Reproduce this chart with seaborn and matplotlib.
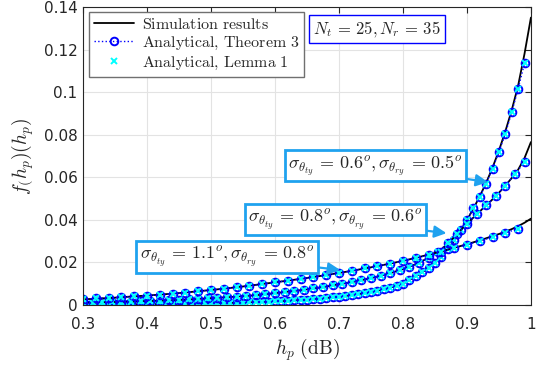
import numpy as np
import matplotlib
matplotlib.use("Agg")
import matplotlib.pyplot as plt
import seaborn as sns

# sampling grids
x_a = np.round(np.arange(0.30, 0.995, 0.01), 3)      # Theorem 3 / Lemma 1, sigma 0.6/0.5
x_b = np.round(np.arange(0.30, 0.995, 0.015), 3)     # sigma 0.8/0.6
x_c = np.round(np.arange(0.30, 0.985, 0.02), 3)      # sigma 1.1/0.8
x_sim = np.round(np.r_[np.arange(0.30, 0.89, 0.02), np.arange(0.90, 1.005, 0.01)], 3)

# analytical values
pdf_a = [0.0001, 0.0001, 0.0001, 0.0001, 0.0002, 0.0002, 0.0002, 0.0002, 0.0003, 0.0003,
         0.0003, 0.0003, 0.0004, 0.0004, 0.0004, 0.0005, 0.0005, 0.0006, 0.0006, 0.0007,
         0.0007, 0.0008, 0.0008, 0.0009, 0.0010, 0.0011, 0.0012, 0.0013, 0.0014, 0.0015,
         0.0016, 0.0018, 0.0019, 0.0021, 0.0023, 0.0025, 0.0027, 0.0029, 0.0032, 0.0035,
         0.0038, 0.0042, 0.0046, 0.0050, 0.0055, 0.0060, 0.0066, 0.0073, 0.0081, 0.0090,
         0.0100, 0.0116, 0.0135, 0.0153, 0.0174, 0.0198, 0.0226, 0.0262, 0.0305, 0.0350,
         0.0400, 0.0453, 0.0508, 0.0570, 0.0640, 0.0718, 0.0805, 0.0905, 0.1015, 0.1135]
pdf_b = [0.0010, 0.0011, 0.0012, 0.0013, 0.0014, 0.0015, 0.0017, 0.0018, 0.0020, 0.0022,
         0.0024, 0.0026, 0.0028, 0.0031, 0.0033, 0.0036, 0.0039, 0.0042, 0.0046, 0.0050,
         0.0056, 0.0061, 0.0066, 0.0071, 0.0077, 0.0084, 0.0092, 0.0099, 0.0107, 0.0116,
         0.0126, 0.0137, 0.0149, 0.0163, 0.0179, 0.0198, 0.0221, 0.0250, 0.0290, 0.0335,
         0.0382, 0.0425, 0.0467, 0.0510, 0.0560, 0.0615, 0.0670]
pdf_c = [0.0027, 0.0030, 0.0033, 0.0036, 0.0040, 0.0044, 0.0048, 0.0053, 0.0058, 0.0064,
         0.0070, 0.0076, 0.0083, 0.0090, 0.0098, 0.0106, 0.0114, 0.0122, 0.0131, 0.0140,
         0.0150, 0.0160, 0.0171, 0.0182, 0.0194, 0.0206, 0.0220, 0.0234, 0.0250, 0.0266,
         0.0283, 0.0300, 0.0318, 0.0338, 0.0358]

# simulation results
sim_a = [0.0001, 0.0001, 0.0002, 0.0002, 0.0003, 0.0003, 0.0004, 0.0004, 0.0005, 0.0006,
         0.0007, 0.0008, 0.0010, 0.0012, 0.0014, 0.0016, 0.0019, 0.0023, 0.0027, 0.0032,
         0.0038, 0.0046, 0.0055, 0.0066, 0.0081, 0.0100, 0.0134, 0.0173, 0.0224, 0.0300,
         0.0398, 0.0452, 0.0510, 0.0573, 0.0645, 0.0725, 0.0815, 0.0915, 0.1030, 0.1180, 0.1350]
sim_b = [0.0010, 0.0011, 0.0013, 0.0014, 0.0016, 0.0018, 0.0020, 0.0022, 0.0025, 0.0028,
         0.0032, 0.0035, 0.0039, 0.0043, 0.0048, 0.0055, 0.0062, 0.0069, 0.0077, 0.0086,
         0.0097, 0.0107, 0.0119, 0.0133, 0.0149, 0.0168, 0.0191, 0.0221, 0.0260, 0.0318,
         0.0382, 0.0410, 0.0439, 0.0467, 0.0496, 0.0527, 0.0560, 0.0596, 0.0635, 0.0690, 0.0765]
sim_c = [0.0026, 0.0029, 0.0032, 0.0036, 0.0040, 0.0044, 0.0048, 0.0053, 0.0058, 0.0064,
         0.0070, 0.0076, 0.0083, 0.0090, 0.0098, 0.0106, 0.0114, 0.0122, 0.0131, 0.0140,
         0.0150, 0.0160, 0.0171, 0.0182, 0.0194, 0.0207, 0.0221, 0.0236, 0.0251, 0.0268,
         0.0285, 0.0294, 0.0303, 0.0313, 0.0323, 0.0333, 0.0344, 0.0356, 0.0370, 0.0386, 0.0405]

labels = [r'$\sigma_{\theta_{ty}}\,=\,0.6^o, \sigma_{\theta_{ry}}\,=\,0.5^o$',
          r'$\sigma_{\theta_{ty}}\,=\,0.8^o, \sigma_{\theta_{ry}}\,=\,0.6^o$',
          r'$\sigma_{\theta_{ty}}\,=\,1.1^o, \sigma_{\theta_{ry}}\,=\,0.8^o$']

sns.set_style('whitegrid')
plt.rcParams['mathtext.fontset'] = 'cm'
plt.rcParams['font.family'] = ['DejaVu Sans']
plt.rcParams['xtick.direction'] = 'in'
plt.rcParams['ytick.direction'] = 'in'

fig, ax = plt.subplots(figsize=(5.39, 3.66), dpi=100)
fig.subplots_adjust(left=0.154, right=0.985, bottom=0.167, top=0.981)

first = True
for xs, ys, sims in [(x_a, pdf_a, sim_a), (x_b, pdf_b, sim_b), (x_c, pdf_c, sim_c)]:
    sns.lineplot(x=x_sim, y=sims, color='black', lw=1.3, ax=ax,
                 label=r'$\mathrm{Simulation\ results}$' if first else None)
    sns.lineplot(x=xs, y=ys, color='blue', lw=1.0, linestyle=':', marker='o',
                 markersize=5.5, markerfacecolor='none', markeredgecolor='blue',
                 markeredgewidth=1.4, ax=ax,
                 label=r'$\mathrm{Analytical,\,Theorem\ 3}$' if first else None)
    ax.plot(xs, ys, linestyle='none', marker='x', color='cyan', markersize=4.5,
            markeredgewidth=1.4, label=r'$\mathrm{Analytical,\,Lemma\ 1}$' if first else None)
    first = False

ax.set_xlim(0.3, 1.0)
ax.set_ylim(0, 0.14)
ax.set_xticks([0.3, 0.4, 0.5, 0.6, 0.7, 0.8, 0.9, 1.0])
ax.set_xticklabels(['0.3', '0.4', '0.5', '0.6', '0.7', '0.8', '0.9', '1'])
ax.set_yticks([0, 0.02, 0.04, 0.06, 0.08, 0.1, 0.12, 0.14])
ax.set_yticklabels(['0', '0.02', '0.04', '0.06', '0.08', '0.1', '0.12', '0.14'])
ax.tick_params(labelsize=11, colors='#262626', length=4, width=0.8,
               top=True, right=True)
ax.tick_params(axis='x', pad=9)
ax.tick_params(axis='y', pad=4)
ax.grid(True, color='#e3e3e3', lw=0.8)
for s in ax.spines.values():
    s.set_color('#262626')
    s.set_linewidth(0.8)

ax.set_xlabel(r'$h_p\ (\mathrm{dB})$', fontsize=14, labelpad=3)
ax.set_ylabel(r'$f_(h_p)(h_p)$', fontsize=14, labelpad=6)

leg = ax.legend(loc='upper left', bbox_to_anchor=(0.013, 0.983), borderaxespad=0,
                fontsize=11.5, frameon=True, fancybox=False, handlelength=2.5,
                borderpad=0.3, labelspacing=0.18, handletextpad=0.5)
leg.get_frame().set_edgecolor('#707070')
leg.get_frame().set_linewidth(1.0)
leg.get_frame().set_alpha(1)

ax.text(0.656, 0.926, r'$N_t\,=\,25, N_r\,=\,35$', transform=ax.transAxes, fontsize=12,
        ha='center', va='center',
        bbox=dict(boxstyle='square,pad=0.25', fc='white', ec='blue', lw=1.0))

acol = '#1fa2ef'
boxes = [((0.757, 0.0655), (0.933, 0.0577)),
         ((0.694, 0.0401), (0.868, 0.0337)),
         ((0.525, 0.0225), (0.702, 0.0164))]
for lab, (txt, tip) in zip(labels, boxes):
    ax.annotate(lab, xy=tip, xytext=txt, fontsize=13, ha='center', va='center',
                bbox=dict(boxstyle='square,pad=0.18', fc='white', ec=acol, lw=2),
                arrowprops=dict(arrowstyle='-|>', color=acol, lw=1.6, mutation_scale=18,
                                shrinkA=0, shrinkB=0))

fig.savefig('out.png', dpi=100)
